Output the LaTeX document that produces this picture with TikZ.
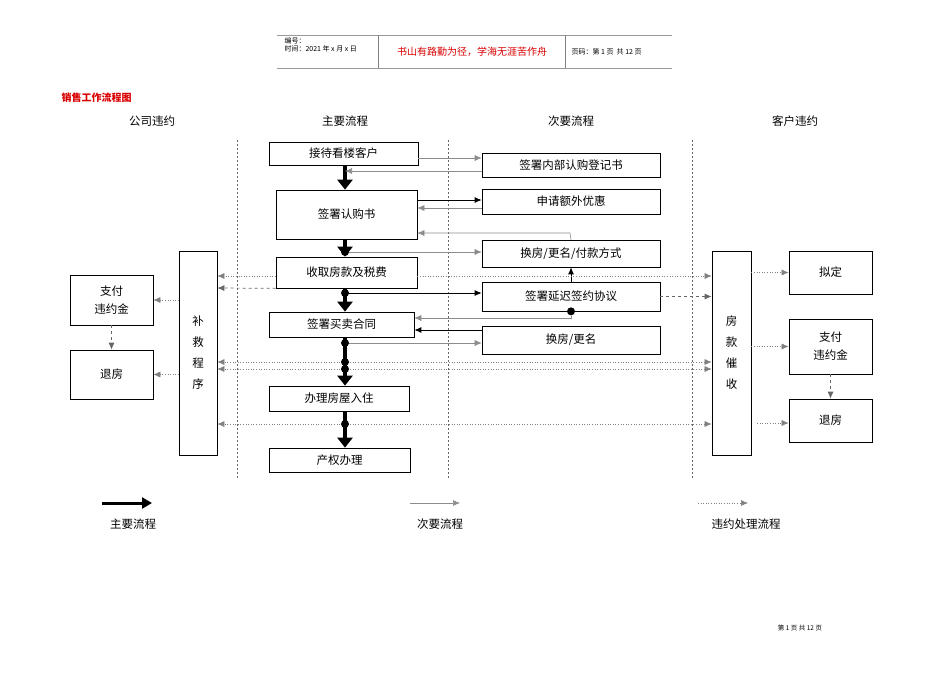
\documentclass[tikz,border=0pt]{standalone}
\usepackage{fontspec}
\setmainfont{Liberation Sans}
\newfontfamily\cjk{Noto Sans CJK SC}
\usetikzlibrary{arrows.meta}
\begin{document}
\begin{tikzpicture}[x=1pt,y=-1pt,font=\cjk\fontsize{11.5}{13}\selectfont,
 bx/.style={draw,line width=0.7pt,inner sep=0pt},
 sec/.style={draw=black!45,line width=0.6pt,-{Latex[length=7pt,width=6pt]}},
 secb/.style={draw=black,line width=0.8pt,-{Latex[length=7pt,width=6pt]}},
 vio/.style={draw=black!50,line width=0.6pt,dotted,-{Latex[length=7pt,width=6pt]}},
 viod/.style={draw=black!60,line width=0.7pt,dashed,-{Latex[length=7pt,width=6pt]}},
 mainar/.style={line width=3.5pt,-{Triangle[length=10pt,width=15pt]}},
 dotn/.style={circle,fill=black,inner sep=0pt,minimum size=8pt},
 col/.style={draw=black!60,dash pattern=on 2pt off 2pt,line width=0.6pt}]
\useasboundingbox (0,0) rectangle (950,672);
% header
\draw[black!40,line width=1pt] (277,35) -- (672,35) (277,68) -- (672,68);
\draw[black!50] (378,35) -- (378,68) (565,35) -- (565,68);
\node[anchor=west,font=\cjk\fontsize{7}{8}\selectfont,align=left] (h1) at (281,45) {编号：\\时间：2021 年 x 月 x 日};
\node[text=red!85!black,font=\cjk\fontsize{10}{11}\selectfont] (h2) at (472,52) {书山有路勤为径，学海无涯苦作舟};
\node[anchor=west,font=\cjk\fontsize{7}{8}\selectfont] (h3) at (568,52) {页码：第 1 页\ \ 共 12 页};
\node[anchor=west,text=red!85!black,font=\cjk\bfseries\fontsize{10}{11}\selectfont] (title) at (58,98) {销售工作流程图};
% column headers
\node (c1) at (152,121) {公司违约};
\node (c2) at (345,121) {主要流程};
\node (c3) at (571,121) {次要流程};
\node (c4) at (795,121) {客户违约};
\draw[col] (237,140) -- (237,478) (448,140) -- (448,478) (692,140) -- (692,478);
% main boxes
\node[bx,minimum width=149pt,minimum height=23pt] (A) at (343.5,153.5) {接待看楼客户};
\node[bx,minimum width=141pt,minimum height=49pt] (B) at (346.5,214.5) {签署认购书};
\node[bx,minimum width=141pt,minimum height=31pt] (C) at (346.5,272.5) {收取房款及税费};
\node[bx,minimum width=145pt,minimum height=25pt] (D) at (341.5,324.5) {签署买卖合同};
\node[bx,minimum width=140pt,minimum height=25pt] (E) at (339,398.5) {办理房屋入住};
\node[bx,minimum width=141pt,minimum height=24pt] (F) at (339.5,460) {产权办理};
% secondary
\node[bx,minimum width=178pt,minimum height=24pt] (S1) at (571,165) {签署内部认购登记书};
\node[bx,minimum width=178pt,minimum height=25pt] (S2) at (571,201.5) {申请额外优惠};
\node[bx,minimum width=178pt,minimum height=27pt] (S3) at (571,253.5) {换房/更名/付款方式};
\node[bx,minimum width=178pt,minimum height=29pt] (S4) at (571,296.5) {签署延迟签约协议};
\node[bx,minimum width=178pt,minimum height=28pt] (S5) at (571,340) {换房/更名};
% side columns
\node[bx,minimum width=38pt,minimum height=204pt,align=center] (BJ) at (198,353) {补\\[8pt]救\\[8pt]程\\[8pt]序};
\node[bx,minimum width=83pt,minimum height=50pt,align=center] (L1) at (111.5,300) {支付\\[5pt]违约金};
\node[bx,minimum width=83pt,minimum height=49pt] (L2) at (111.5,374.5) {退房};
\node[bx,minimum width=39pt,minimum height=204pt,align=center] (FK) at (731.5,353) {房\\[8pt]款\\[8pt]催\\[8pt]收};
\node[bx,minimum width=83pt,minimum height=43pt] (R1) at (830.5,272.5) {拟定};
\node[bx,minimum width=83pt,minimum height=55pt,align=center] (R2) at (830.5,346.5) {支付\\[5pt]违约金};
\node[bx,minimum width=83pt,minimum height=43pt] (R3) at (830.5,420.5) {退房};
% spine
\coordinate (p1) at (345,171); \coordinate (p2) at (345,252);
\coordinate (p3) at (345,293); \coordinate (p4) at (345,343);
\coordinate (p5) at (345,362); \coordinate (p6) at (345,369);
\coordinate (p7) at (345,424);
\draw[mainar] (A.south -| p1) -- (B.north -| p1);
\draw[mainar] (B.south -| p1) -- (C.north -| p1);
\draw[mainar] (C.south -| p1) -- (D.north -| p1);
\draw[mainar] (D.south -| p1) -- (E.north -| p1);
\draw[mainar] (E.south -| p1) -- (F.north -| p1);
% secondary connectors
\draw[sec] (A.east |- 0,158) -- (S1.west |- 0,158);
\draw[sec] (S1.west |- 0,171) -- (p1);
\draw[secb] (B.east |- 0,200) -- (S2.west |- 0,200);
\draw[sec] (S2.west |- 0,208) -- (B.east |- 0,208);
\draw[sec] (S3.north) -- (570,233) -- (B.east |- 0,233);
\draw[sec] (p2) -- (S3.west |- p2);
\draw[secb] (p3) -- (S4.west |- p3);
\draw[secb] (S4.north) -- (S3.south);
\node[dotn] (q) at (S4.south) {};
\draw[sec] (q) |- (D.east |- 0,318);
\draw[secb] (S5.west |- 0,330) -- (D.east |- 0,330);
\draw[sec] (p4) -- (S5.west |- p4);
% violation connectors
\draw[vio] (C.west |- 0,276) -- (BJ.east |- 0,276);
\draw[vio] (C.east |- 0,276) -- (FK.west |- 0,276);
\draw[viod] (C.south west) -- (BJ.east |- 0,288);
\draw[viod] (S4.east) -- (FK.west |- S4.east);
\foreach \p in {p5,p6,p7}{
 \draw[vio] (\p) -- (BJ.east |- \p);
 \draw[vio] (\p) -- (FK.west |- \p);}
\foreach \p in {p2,p3,p4,p5,p6,p7} \node[dotn] at (\p) {};
\draw[vio] (BJ.west |- L1) -- (L1.east);
\draw[vio] (BJ.west |- L2) -- (L2.east);
\draw[viod] (L1.south) -- (L2.north);
\draw[vio] (FK.east |- R1) -- (R1.west);
\draw[vio] (FK.east |- R2) -- (R2.west);
\draw[vio] (757,423) -- (R3.west |- 0,423);
\draw[viod] (R2.south) -- (R3.north);
% legend
\coordinate (l1a) at (102,503); \coordinate (l1b) at (152,503);
\coordinate (l2a) at (410,503); \coordinate (l2b) at (460,503);
\coordinate (l3a) at (698,503); \coordinate (l3b) at (748,503);
\draw[line width=3pt,-{Triangle[length=10pt,width=11pt]}] (l1a) -- (l1b);
\draw[sec] (l2a) -- (l2b);
\draw[vio] (l3a) -- (l3b);
\node (t1) at (133,524) {主要流程};
\node (t2) at (440,524) {次要流程};
\node (t3) at (746,524) {违约处理流程};
\node[font=\cjk\fontsize{6.5}{7}\selectfont] (ft) at (800,628) {第 1 页\ 共 12 页};
\end{tikzpicture}
\end{document}
